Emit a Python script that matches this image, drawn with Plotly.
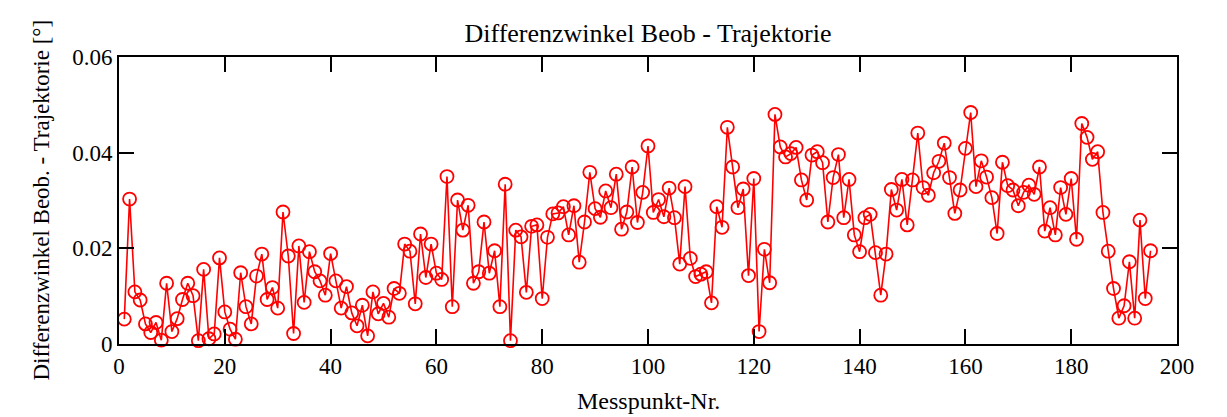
import plotly.graph_objects as go

x_values = list(range(1, 196))
y_values = [
    0.0052, 0.0303, 0.0109, 0.0092, 0.0042, 0.0024, 0.0045, 0.0008, 0.0127, 0.0026,
    0.0053, 0.0093, 0.0127, 0.0101, 0.0007, 0.0156, 0.0011, 0.0021, 0.0180, 0.0067,
    0.0031, 0.0010, 0.0149, 0.0078, 0.0042, 0.0142, 0.0188, 0.0093, 0.0118, 0.0075,
    0.0276, 0.0184, 0.0022, 0.0205, 0.0087, 0.0193, 0.0151, 0.0132, 0.0102, 0.0189,
    0.0132, 0.0075, 0.0120, 0.0065, 0.0038, 0.0081, 0.0017, 0.0109, 0.0063, 0.0085,
    0.0056, 0.0116, 0.0106, 0.0209, 0.0194, 0.0084, 0.0230, 0.0139, 0.0209, 0.0148,
    0.0135, 0.0350, 0.0078, 0.0301, 0.0238, 0.0290, 0.0127, 0.0151, 0.0255, 0.0148,
    0.0195, 0.0078, 0.0334, 0.0007, 0.0238, 0.0224, 0.0108, 0.0246, 0.0249, 0.0095,
    0.0223, 0.0272, 0.0274, 0.0287, 0.0228, 0.0289, 0.0171, 0.0255, 0.0359, 0.0283,
    0.0265, 0.0320, 0.0285, 0.0355, 0.0240, 0.0276, 0.0370, 0.0254, 0.0317, 0.0414,
    0.0275, 0.0302, 0.0266, 0.0326, 0.0264, 0.0167, 0.0329, 0.0179, 0.0141, 0.0146,
    0.0151, 0.0086, 0.0287, 0.0244, 0.0453, 0.0370, 0.0285, 0.0324, 0.0143, 0.0346,
    0.0026, 0.0198, 0.0128, 0.0480, 0.0412, 0.0391, 0.0398, 0.0411, 0.0343, 0.0301,
    0.0395, 0.0402, 0.0379, 0.0255, 0.0348, 0.0396, 0.0264, 0.0344, 0.0228, 0.0193,
    0.0264, 0.0271, 0.0191, 0.0102, 0.0188, 0.0323, 0.0280, 0.0344, 0.0249, 0.0343,
    0.0441, 0.0327, 0.0311, 0.0358, 0.0382, 0.0420, 0.0348, 0.0273, 0.0322, 0.0409,
    0.0484, 0.0329, 0.0383, 0.0349, 0.0306, 0.0231, 0.0380, 0.0331, 0.0322, 0.0289,
    0.0317, 0.0332, 0.0313, 0.0370, 0.0236, 0.0285, 0.0228, 0.0327, 0.0271, 0.0346,
    0.0219, 0.0461, 0.0432, 0.0386, 0.0402, 0.0275, 0.0194, 0.0116, 0.0054, 0.0080,
    0.0172, 0.0054, 0.0259, 0.0095, 0.0195,
]
x_tick_vals = [0, 20, 40, 60, 80, 100, 120, 140, 160, 180, 200]
y_tick_vals = [0, 0.02, 0.04, 0.06]
y_tick_text = ["0", "0.02", "0.04", "0.06"]

title_text = "Differenzwinkel Beob - Trajektorie"
x_title = "Messpunkt-Nr."
y_title = "Differenzwinkel Beob. - Trajektorie [°]"

font_family = "Liberation Serif, Times New Roman, serif"

# page body has an 8px default margin, so the figure is 8px smaller
FIG_W, FIG_H = 1219, 409
M_L, M_R, M_T, M_B = 111, 50, 49, 73
plot_w = FIG_W - M_L - M_R
plot_h = FIG_H - M_T - M_B

fig = go.Figure()
fig.add_trace(go.Scatter(
    x=x_values, y=y_values,
    mode="lines+markers",
    line=dict(color="#ff0000", width=1.6),
    marker=dict(symbol="circle-open", size=13, color="#ff0000", line=dict(width=1.8, color="#ff0000")),
    cliponaxis=False,
    showlegend=False,
))

axis_common = dict(
    showline=True, linecolor="black", linewidth=2,
    mirror="ticks", ticks="inside", tickcolor="black", tickwidth=2, ticklen=15,
    showgrid=False, zeroline=False, automargin=False,
    tickfont=dict(family=font_family, size=23, color="black"),
)

fig.update_layout(
    width=FIG_W, height=FIG_H,
    margin=dict(l=M_L, r=M_R, t=M_T, b=M_B),
    paper_bgcolor="white", plot_bgcolor="white",
    title=dict(text=title_text, x=0.5, xref="paper", xanchor="center",
               y=1 - 25 / FIG_H, yref="container", yanchor="middle",
               font=dict(family=font_family, size=26, color="black")),
    xaxis=dict(range=[0, 200], tickvals=x_tick_vals, **axis_common),
    yaxis=dict(range=[0, 0.06], tickvals=y_tick_vals, ticktext=y_tick_text, **axis_common),
    annotations=[
        dict(text=x_title, xref="paper", yref="paper", x=0.5, y=-57 / plot_h,
             xanchor="center", yanchor="middle", showarrow=False,
             font=dict(family=font_family, size=24, color="black")),
        dict(text=y_title, xref="paper", yref="paper", x=-78 / plot_w, y=0.5,
             xanchor="center", yanchor="middle", showarrow=False, textangle=-90,
             font=dict(family=font_family, size=23, color="black")),
    ],
)

fig.write_html("out.html")
